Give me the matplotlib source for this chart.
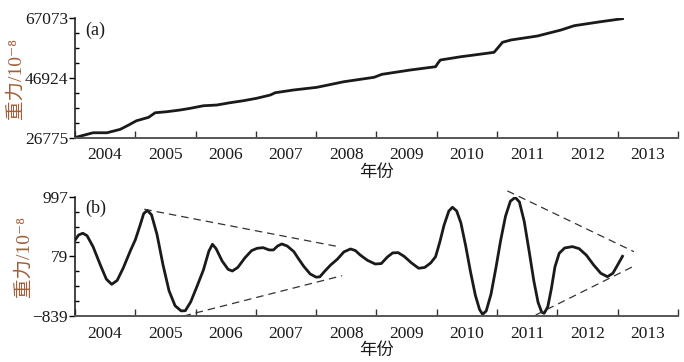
import matplotlib
matplotlib.use('Agg')
import matplotlib.pyplot as plt
from matplotlib.ticker import FixedLocator, NullFormatter

plt.rcParams['font.family'] = ['Liberation Serif', 'Noto Sans CJK SC', 'DejaVu Sans']

# (a) cumulative gravity
year_a = [2004.00, 2004.30, 2004.53, 2004.75, 2004.89, 2005.02, 2005.22, 2005.33,
          2005.52, 2005.74, 2005.91, 2006.13, 2006.35, 2006.57, 2006.79, 2007.01,
          2007.24, 2007.32, 2007.62, 2008.01, 2008.46, 2008.96, 2009.09, 2009.56,
          2009.98, 2010.02, 2010.06, 2010.40, 2010.62, 2010.95, 2011.02, 2011.09,
          2011.23, 2011.67, 2012.06, 2012.28, 2012.72, 2013.08]
grav_a = [26775, 28400, 28400, 29550, 31010, 32460, 33610, 35170,
          35510, 36090, 36660, 37540, 37780, 38560, 39230, 40050,
          41170, 41940, 42860, 43770, 45670, 47160, 48170, 49630,
          50750, 52000, 53020, 54130, 54710, 55620, 57300, 59010,
          59790, 61140, 63170, 64630, 65980, 67000]

# (b) residual gravity
year_b = [2004.00, 2004.06, 2004.13, 2004.20, 2004.30, 2004.42, 2004.52, 2004.61,
          2004.70, 2004.80, 2004.92, 2005.00, 2005.08, 2005.14, 2005.20, 2005.27,
          2005.36, 2005.46, 2005.56, 2005.66, 2005.76, 2005.83, 2005.92, 2006.02,
          2006.13, 2006.22, 2006.28, 2006.34, 2006.44, 2006.54, 2006.61, 2006.70,
          2006.82, 2006.93, 2007.02, 2007.12, 2007.22, 2007.29, 2007.36, 2007.43,
          2007.52, 2007.63, 2007.71, 2007.79, 2007.90, 2008.00, 2008.06, 2008.15,
          2008.24, 2008.35, 2008.46, 2008.57, 2008.65, 2008.73, 2008.85, 2008.98,
          2009.08, 2009.18, 2009.27, 2009.36, 2009.46, 2009.58, 2009.70, 2009.80,
          2009.90, 2009.98, 2010.05, 2010.12, 2010.20, 2010.26, 2010.33, 2010.40,
          2010.48, 2010.56, 2010.64, 2010.71, 2010.76, 2010.82, 2010.90, 2010.98,
          2011.06, 2011.14, 2011.22, 2011.30, 2011.37, 2011.45, 2011.53, 2011.61,
          2011.68, 2011.74, 2011.78, 2011.84, 2011.90, 2011.96, 2012.03, 2012.12,
          2012.25, 2012.36, 2012.48, 2012.60, 2012.72, 2012.83, 2012.92, 2013.00,
          2013.08]
grav_b = [330, 410, 437, 400, 230, -50, -270, -350,
          -290, -100, 170, 334, 560, 740, 790, 720,
          420, -50, -450, -680, -760, -757, -620, -390,
          -129, 160, 267, 200, 10, -120, -145, -90,
          60, 170, 205, 215, 180, 179, 240, 272,
          240, 153, 40, -68, -190, -240, -235, -140,
          -52, 36, 150, 195, 170, 102, 20, -37,
          -30, 70, 135, 138, 80, -20, -103, -90,
          -20, 76, 300, 560, 780, 838, 780, 596,
          240, -160, -520, -740, -813, -760, -500, -100,
          330, 700, 930, 990, 920, 620, 170, -300,
          -630, -780, -797, -700, -420, -80, 128, 210,
          231, 200, 100, -50, -180, -233, -180, -50,
          82]

# envelope lines in (b): (x0, x1), (y0, y1)
env_years = [(2005.15, 2008.37), (2005.80, 2008.43), (2011.17, 2013.27), (2011.64, 2013.25)]
env_vals = [(807, 230), (-839, -217), (1090, 153), (-824, -78)]

years = list(range(2004, 2015))
year_labels = [str(y) for y in range(2004, 2014)]

fig = plt.figure(figsize=(6.84, 3.62), dpi=100)
ax_a = fig.add_axes([0.1096, 0.620, 0.8816, 0.329])
ax_b = fig.add_axes([0.1096, 0.127, 0.8816, 0.329])

ink = '#1a1a1a'
lab_col = '#a0603a'


def style(ax, lo, hi, lo_txt, mid_txt, hi_txt, tag):
    for s in ['top', 'right']:
        ax.spines[s].set_visible(False)
    ax.spines['left'].set_color('#222222')
    ax.spines['bottom'].set_color('#555555')
    ax.spines['left'].set_linewidth(1.2)
    ax.spines['bottom'].set_linewidth(1.4)
    ax.set_xlim(2004, 2014)
    ax.set_ylim(lo, hi)
    ax.xaxis.set_major_locator(FixedLocator(years))
    ax.xaxis.set_major_formatter(NullFormatter())
    ax.xaxis.set_minor_locator(FixedLocator([y + 0.5 for y in range(2004, 2014)]))
    ax.set_xticklabels(year_labels, minor=True)
    ax.tick_params(axis='x', which='major', direction='in', length=5, width=1, color='#333333')
    ax.tick_params(axis='x', which='minor', length=0, pad=7, labelsize=12.5, labelcolor=ink)
    step = (hi - lo) / 8
    ax.set_yticks([lo, lo + 4 * step, hi])
    ax.set_yticklabels([lo_txt, mid_txt, hi_txt])
    ax.yaxis.set_minor_locator(FixedLocator([lo + i * step for i in range(1, 8) if i != 4]))
    ax.tick_params(axis='y', which='major', direction='out', length=4, width=1, pad=1,
                   labelsize=12.5, labelcolor=ink)
    ax.tick_params(axis='y', which='minor', direction='in', length=3, width=1)
    ax.set_xlabel('年份', fontsize=12.5, color=ink, labelpad=1)
    ax.set_ylabel('重力/10⁻⁸', fontsize=14, color=lab_col, labelpad=0)
    ax.text(0.017, 0.90, '(' + tag + ')', transform=ax.transAxes, fontsize=13,
            color=ink, va='center', ha='left')


ax_a.plot(year_a, grav_a, color=ink, lw=2)
style(ax_a, 26775, 67073, '26775', '46924', '67073', 'a')

ax_b.plot(year_b, grav_b, color=ink, lw=2)
for xs, ys in zip(env_years, env_vals):
    ax_b.plot(xs, ys, color='#333333', lw=0.9, dashes=(6, 4), clip_on=False)
style(ax_b, -839, 997, '\u2212839', '79', '997', 'b')

fig.savefig('out.png', dpi=100)
